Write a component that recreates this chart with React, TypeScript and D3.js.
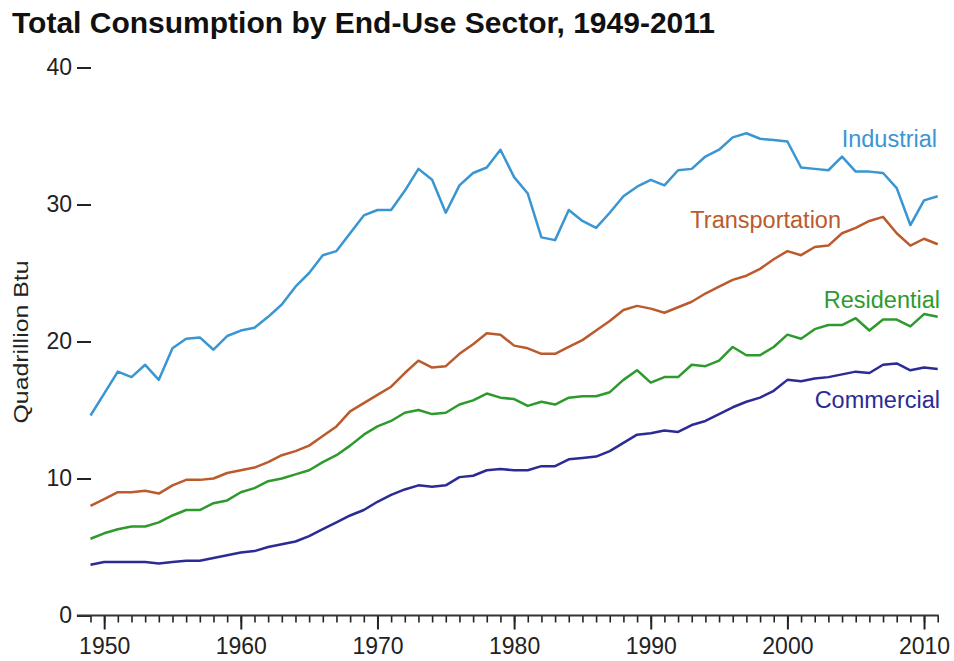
import { useRef, useEffect } from 'react';
import * as d3 from 'd3';

// Quadrillion Btu, 1949-2011
const years: number[] = d3.range(1949, 2012);

const industrial = [
  14.6, 16.2, 17.8, 17.4, 18.3, 17.2, 19.5, 20.2, 20.3, 19.4,
  20.4, 20.8, 21.0, 21.8, 22.7, 24.0, 25.0, 26.3, 26.6, 27.9,
  29.2, 29.6, 29.6, 31.0, 32.6, 31.8, 29.4, 31.4, 32.3, 32.7,
  34.0, 32.0, 30.8, 27.6, 27.4, 29.6, 28.8, 28.3, 29.4, 30.6,
  31.3, 31.8, 31.4, 32.5, 32.6, 33.5, 34.0, 34.9, 35.2, 34.8,
  34.7, 34.6, 32.7, 32.6, 32.5, 33.5, 32.4, 32.4, 32.3, 31.2,
  28.5, 30.3, 30.6,
];

const transportation = [
  8.0, 8.5, 9.0, 9.0, 9.1, 8.9, 9.5, 9.9, 9.9, 10.0,
  10.4, 10.6, 10.8, 11.2, 11.7, 12.0, 12.4, 13.1, 13.8, 14.9,
  15.5, 16.1, 16.7, 17.7, 18.6, 18.1, 18.2, 19.1, 19.8, 20.6,
  20.5, 19.7, 19.5, 19.1, 19.1, 19.6, 20.1, 20.8, 21.5, 22.3,
  22.6, 22.4, 22.1, 22.5, 22.9, 23.5, 24.0, 24.5, 24.8, 25.3,
  26.0, 26.6, 26.3, 26.9, 27.0, 27.9, 28.3, 28.8, 29.1, 27.9,
  27.0, 27.5, 27.1,
];

const residential = [
  5.6, 6.0, 6.3, 6.5, 6.5, 6.8, 7.3, 7.7, 7.7, 8.2,
  8.4, 9.0, 9.3, 9.8, 10.0, 10.3, 10.6, 11.2, 11.7, 12.4,
  13.2, 13.8, 14.2, 14.8, 15.0, 14.7, 14.8, 15.4, 15.7, 16.2,
  15.9, 15.8, 15.3, 15.6, 15.4, 15.9, 16.0, 16.0, 16.3, 17.2,
  17.9, 17.0, 17.4, 17.4, 18.3, 18.2, 18.6, 19.6, 19.0, 19.0,
  19.6, 20.5, 20.2, 20.9, 21.2, 21.2, 21.7, 20.8, 21.6, 21.6,
  21.1, 22.0, 21.8,
];

const commercial = [
  3.7, 3.9, 3.9, 3.9, 3.9, 3.8, 3.9, 4.0, 4.0, 4.2,
  4.4, 4.6, 4.7, 5.0, 5.2, 5.4, 5.8, 6.3, 6.8, 7.3,
  7.7, 8.3, 8.8, 9.2, 9.5, 9.4, 9.5, 10.1, 10.2, 10.6,
  10.7, 10.6, 10.6, 10.9, 10.9, 11.4, 11.5, 11.6, 12.0, 12.6,
  13.2, 13.3, 13.5, 13.4, 13.9, 14.2, 14.7, 15.2, 15.6, 15.9,
  16.4, 17.2, 17.1, 17.3, 17.4, 17.6, 17.8, 17.7, 18.3, 18.4,
  17.9, 18.1, 18.0,
];

const series = [
  { name: 'Industrial', values: industrial, color: '#3a95d3', lx: 937, ly: 147 },
  { name: 'Transportation', values: transportation, color: '#bb5a2c', lx: 841, ly: 228 },
  { name: 'Residential', values: residential, color: '#2e9a2e', lx: 940, ly: 308 },
  { name: 'Commercial', values: commercial, color: '#2b2b96', lx: 940, ly: 408 },
];

const yTicks = [0, 10, 20, 30, 40];
const decadeTicks = [1950, 1960, 1970, 1980, 1990, 2000, 2010];

const FONT = '"Liberation Sans", Arial, sans-serif';

const App = () => {
  const svgRef = useRef<SVGSVGElement>(null);

  useEffect(() => {
    const svg = d3.select(svgRef.current);
    svg.selectAll('*').remove();

    const x = d3.scaleLinear().domain([1949, 2011]).range([90.5, 937.7]);
    const y = d3.scaleLinear().domain([0, 40]).range([615.5, 67.5]);

    // title
    svg.append('text')
      .attr('x', 12)
      .attr('y', 33)
      .style('font-family', FONT)
      .style('font-size', '30px')
      .style('font-weight', 'bold')
      .attr('fill', '#111')
      .text('Total Consumption by End-Use Sector, 1949-2011');

    // y axis (no line, just dashes + labels)
    const yAxis = svg.append('g')
      .attr('transform', `translate(91,0)`)
      .call(d3.axisLeft(y).tickValues(yTicks).tickSize(14).tickPadding(5).tickFormat(d3.format('d')));
    yAxis.select('.domain').remove();
    yAxis.selectAll('line').attr('stroke', '#222').attr('stroke-width', 2);
    yAxis.selectAll('text')
      .style('font-family', FONT)
      .style('font-size', '23px')
      .attr('fill', '#222');

    svg.append('text')
      .attr('transform', 'translate(28,342) rotate(-90)')
      .attr('text-anchor', 'middle')
      .attr('textLength', 163)
      .attr('lengthAdjust', 'spacingAndGlyphs')
      .style('font-family', FONT)
      .style('font-size', '21px')
      .attr('fill', '#222')
      .text('Quadrillion Btu');

    // x axis: minor yearly ticks + major decade ticks
    const x0 = y(0);
    const minor = svg.append('g')
      .attr('transform', `translate(0,${x0})`)
      .call(d3.axisBottom(x).tickValues(years).tickSize(7).tickFormat(() => ''));
    minor.select('.domain').remove();
    minor.selectAll('line').attr('stroke', '#222').attr('stroke-width', 1.6);

    const major = svg.append('g')
      .attr('transform', `translate(0,${x0})`)
      .call(d3.axisBottom(x).tickValues(decadeTicks).tickSize(14).tickPadding(8).tickFormat(d3.format('d')));
    major.select('.domain').remove();
    major.selectAll('line').attr('stroke', '#222').attr('stroke-width', 2);
    major.selectAll('text')
      .style('font-family', FONT)
      .style('font-size', '23px')
      .attr('fill', '#222');

    svg.append('line')
      .attr('x1', x(1948))
      .attr('x2', x(2011) + 1)
      .attr('y1', x0)
      .attr('y2', x0)
      .attr('stroke', '#333')
      .attr('stroke-width', 2.2);

    // series lines
    const line = d3.line<number>()
      .x((_, i) => x(years[i]))
      .y(d => y(d));

    series.forEach(s => {
      svg.append('path')
        .datum(s.values)
        .attr('d', line)
        .attr('fill', 'none')
        .attr('stroke', s.color)
        .attr('stroke-width', 2.5)
        .attr('stroke-linejoin', 'round');

      svg.append('text')
        .attr('x', s.lx)
        .attr('y', s.ly)
        .attr('text-anchor', 'end')
        .style('font-family', FONT)
        .style('font-size', '23.5px')
        .attr('fill', s.color)
        .text(s.name);
    });
  }, []);

  return (
    <svg
      ref={svgRef}
      width={954}
      height={661}
      style={{ position: 'absolute', left: 0, top: 0, background: '#fff' }}
    />
  );
};

export default App;
